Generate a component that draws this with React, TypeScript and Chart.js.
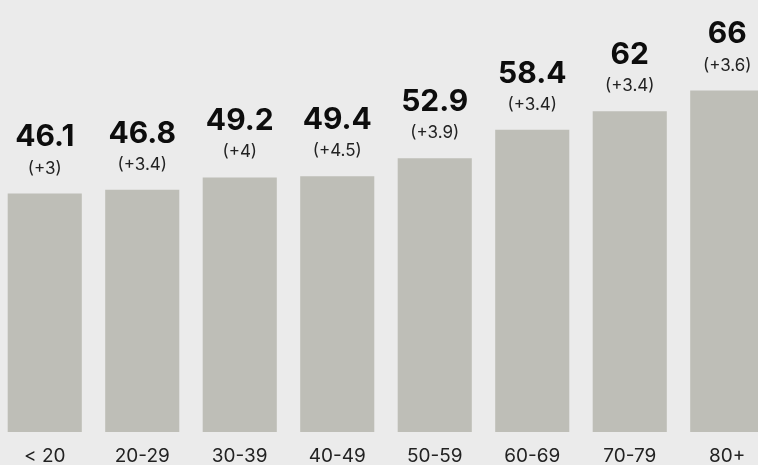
import React, { useEffect, useRef } from "react";
import { Chart, registerables } from "chart.js";

Chart.register(...registerables);

const categories = ["< 20", "20-29", "30-39", "40-49", "50-59", "60-69", "70-79", "80+"];
const values = [46.1, 46.8, 49.2, 49.4, 52.9, 58.4, 62, 66];
const changes = ["(+3)", "(+3.4)", "(+4)", "(+4.5)", "(+3.9)", "(+3.4)", "(+3.4)", "(+3.6)"];

const FONT = 'Inter, "Liberation Sans", Arial, sans-serif';

const labelPlugin = {
  id: "barLabels",
  afterDatasetsDraw(chart: any) {
    const ctx = chart.ctx;
    const meta = chart.getDatasetMeta(0);
    ctx.save();
    ctx.textAlign = "center";
    ctx.textBaseline = "middle";
    meta.data.forEach((bar: any, i: number) => {
      ctx.fillStyle = "#0d0d0d";
      ctx.font = `bold 30px ${FONT}`;
      ctx.fillText(String(values[i]), bar.x, bar.y - 56);
      ctx.fillStyle = "#222222";
      ctx.font = `17px ${FONT}`;
      ctx.fillText(changes[i], bar.x, bar.y - 25);
    });
    ctx.restore();
  },
};

export default function App() {
  const ref = useRef<HTMLCanvasElement | null>(null);

  useEffect(() => {
    document.body.style.margin = "0";
    document.body.style.background = "#ebebeb";
    if (!ref.current) return;
    const chart = new Chart(ref.current, {
      type: "bar",
      data: {
        labels: categories,
        datasets: [
          {
            data: values,
            backgroundColor: "#bebeb7",
            borderWidth: 0,
            categoryPercentage: 0.76,
            barPercentage: 1,
          },
        ],
      },
      options: {
        responsive: false,
        animation: false,
        devicePixelRatio: 1,
        layout: { padding: { top: 18, left: 0, right: 0, bottom: 0 } },
        plugins: {
          legend: { display: false },
          tooltip: { enabled: false },
        },
        scales: {
          x: {
            grid: { display: false, drawTicks: false },
            border: { display: false },
            ticks: {
              color: "#222222",
              font: { family: FONT, size: 19 },
              padding: 13,
              maxRotation: 0,
              autoSkip: false,
            },
            afterFit: (scale: any) => {
              scale.height = 33;
            },
          },
          y: {
            display: false,
            min: 0,
            max: 80,
          },
        },
      },
      plugins: [labelPlugin],
    });
    return () => chart.destroy();
  }, []);

  return (
    <div style={{ position: "relative", width: 758, height: 465, overflow: "hidden", background: "#ebebeb" }}>
      <canvas
        ref={ref}
        width={780}
        height={465}
        style={{ position: "absolute", left: -4, top: 0, width: 780, height: 465 }}
      />
    </div>
  );
}
